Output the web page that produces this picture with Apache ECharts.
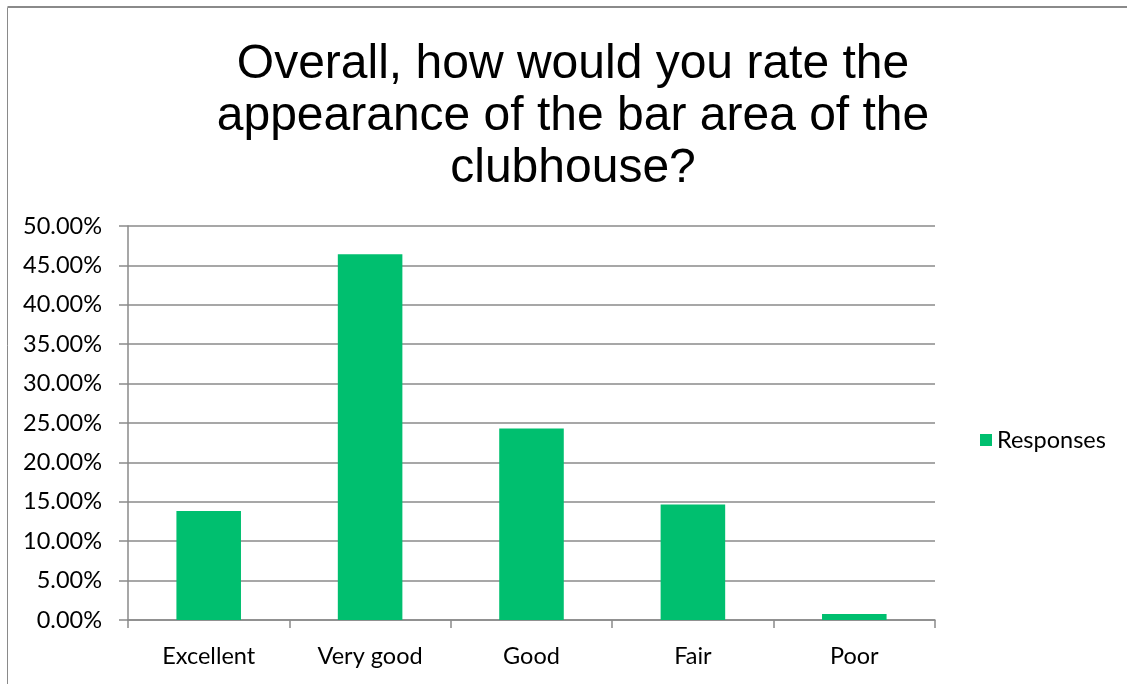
<!DOCTYPE html>
<html>
<head>
<meta charset="utf-8">
<script src="https://cdn.jsdelivr.net/npm/echarts@6/dist/echarts.min.js"></script>
<style>
html,body{margin:0;padding:0;background:#fff;}
#chart{width:1127px;height:684px;}
</style>
</head>
<body>
<div id="chart"></div>
<script>
const titleText = 'Overall, how would you rate the\nappearance of the bar area of the\nclubhouse?';
const categories = ['Excellent', 'Very good', 'Good', 'Fair', 'Poor'];
const seriesName = 'Responses';
const responses = [13.82, 46.43, 24.31, 14.67, 0.76];
const yMin = 0, yMax = 50, yStep = 5;

const chart = echarts.init(document.getElementById('chart'));
const axisGray = '#8a8a8a';
const labelFont = 'Lato, "Open Sans", sans-serif';
const labelSize = 23.5;
chart.setOption({
  animation: false,
  backgroundColor: '#ffffff',
  graphic: [
    { type: 'line', shape: { x1: 7.5, y1: 7, x2: 1127, y2: 7 }, style: { stroke: axisGray, lineWidth: 2 } },
    { type: 'line', shape: { x1: 7.5, y1: 7.5, x2: 7.5, y2: 684 }, style: { stroke: axisGray, lineWidth: 1 } }
  ],
  title: {
    text: titleText,
    left: 568,
    top: 34,
    textAlign: 'center',
    textStyle: {
      fontFamily: '"Liberation Sans", Arial, sans-serif',
      fontSize: 48,
      fontWeight: 'normal',
      lineHeight: 52,
      color: '#000'
    }
  },
  legend: {
    data: [seriesName],
    orient: 'vertical',
    left: 975,
    top: 423,
    itemWidth: 12,
    itemHeight: 12,
    itemGap: 8,
    icon: 'rect',
    textStyle: { fontFamily: labelFont, fontSize: labelSize, color: '#000' }
  },
  grid: { left: 128, right: 192, top: 226, bottom: 64, containLabel: false },
  xAxis: {
    type: 'category',
    data: categories,
    axisLine: { lineStyle: { color: axisGray, width: 1.5 } },
    axisTick: { show: true, length: 8, lineStyle: { color: axisGray, width: 1.5 } },
    axisLabel: { fontFamily: labelFont, fontSize: labelSize, color: '#000', margin: 24 }
  },
  yAxis: {
    type: 'value',
    min: yMin,
    max: yMax,
    interval: yStep,
    axisLine: { show: true, lineStyle: { color: axisGray, width: 1.5 } },
    axisTick: { show: true, length: 9, lineStyle: { color: axisGray, width: 1.5 } },
    splitLine: { show: true, lineStyle: { color: axisGray, width: 1.5 } },
    axisLabel: {
      fontFamily: labelFont, fontSize: labelSize, color: '#000', margin: 26,
      formatter: v => v.toFixed(2) + '%'
    }
  },
  series: [{
    name: seriesName,
    type: 'bar',
    data: responses,
    barWidth: '40%',
    itemStyle: { color: '#00BF6F' }
  }]
});
</script>
</body>
</html>
